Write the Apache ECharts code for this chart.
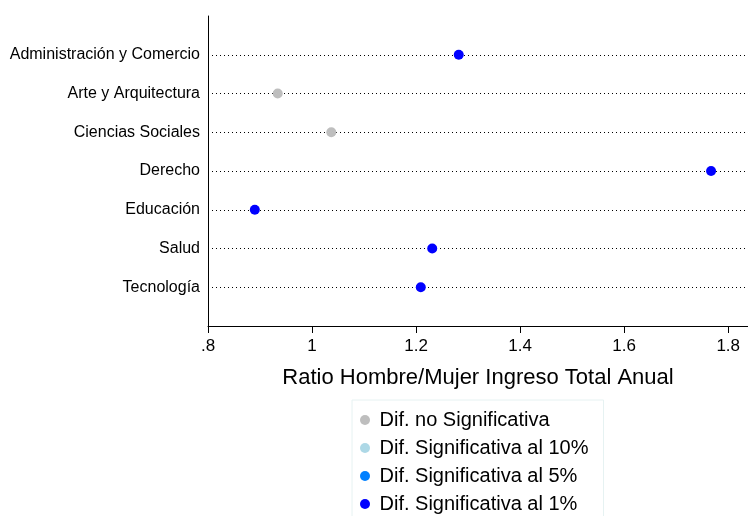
<!DOCTYPE html>
<html>
<head>
<meta charset="utf-8">
<script src="https://cdn.jsdelivr.net/npm/echarts@6/dist/echarts.min.js"></script>
<style>
html,body{margin:0;padding:0;background:#fff;}
#chart{width:748px;height:516px;}
</style>
</head>
<body>
<div id="chart"></div>
<script>
// ---- Data ----
const categories = ['Administración y Comercio','Arte y Arquitectura','Ciencias Sociales','Derecho','Educación','Salud','Tecnología'];
const ratios = [1.282, 0.934, 1.037, 1.767, 0.890, 1.231, 1.209];
// significance level per category: 0 = no significativa, 10, 5, 1
const significance = [1, 0, 0, 1, 1, 1, 1];
const groupNames = ['Dif. no Significativa','Dif. Significativa al 10%','Dif. Significativa al 5%','Dif. Significativa al 1%'];
const groupLevels = [0, 10, 5, 1];
const groupColors = ['#bebebe','#add8e6','#0080ff','#0000ff'];
const xTicks = [0.8, 1.0, 1.2, 1.4, 1.6, 1.8];
const xTickLabels = ['.8','1','1.2','1.4','1.6','1.8'];
const xTitle = 'Ratio Hombre/Mujer Ingreso Total Anual';

const FONT = 'Liberation Sans, Arial, sans-serif';

const series = [{
  name: '_guides',
  type: 'scatter',
  data: [],
  z: 0,
  silent: true,
  markLine: {
    silent: true,
    symbol: ['none','none'],
    label: {show: false},
    lineStyle: {color: '#000', width: 1, type: [1, 3]},
    data: categories.map((c, i) => ({yAxis: i + 1}))
  }
}];
groupNames.forEach((name, g) => {
  const data = [];
  categories.forEach((c, i) => {
    if (significance[i] === groupLevels[g]) data.push([ratios[i], i + 1]);
  });
  series.push({
    name: name,
    type: 'scatter',
    symbol: 'circle',
    symbolSize: 10,
    zlevel: 1,
    z: 3,
    itemStyle: {color: groupColors[g], opacity: 1},
    data: data
  });
});

const chart = echarts.init(document.getElementById('chart'), null, {renderer: 'canvas'});
chart.setOption({
  animation: false,
  backgroundColor: '#fff',
  textStyle: {fontFamily: FONT},
  grid: {left: 208, top: 16, right: 0, bottom: 190, containLabel: false},
  xAxis: {
    type: 'value',
    position: 'bottom',
    min: 0.8,
    max: 1.838,
    interval: 0.2,
    name: xTitle,
    nameLocation: 'middle',
    nameGap: 41,
    nameTextStyle: {color: '#000', fontSize: 22, fontFamily: FONT},
    axisLine: {show: true, onZero: false, lineStyle: {color: '#000', width: 1}},
    axisTick: {show: true, length: 7, lineStyle: {color: '#000'}, customValues: xTicks},
    axisLabel: {
      color: '#000', fontSize: 17, fontFamily: FONT, margin: 12,
      customValues: xTicks,
      formatter: v => {
        const idx = xTicks.findIndex(t => Math.abs(t - v) < 1e-6);
        return idx >= 0 ? xTickLabels[idx] : '';
      }
    },
    splitLine: {show: false}
  },
  yAxis: {
    type: 'value',
    inverse: true,
    min: 0,
    max: 8,
    interval: 1,
    axisLine: {show: true, onZero: false, lineStyle: {color: '#000', width: 1}},
    axisTick: {show: false},
    axisLabel: {
      color: '#000', fontSize: 16, fontFamily: FONT, margin: 8,
      formatter: v => (v >= 1 && v <= categories.length) ? categories[v - 1] : ''
    },
    splitLine: {show: false}
  },
  legend: {
    data: groupNames,
    orient: 'vertical',
    left: 352,
    top: 400,
    height: 140,
    icon: 'circle',
    itemWidth: 19,
    itemHeight: 10,
    itemGap: 8,
    padding: [10, 15, 11, 8],
    borderColor: '#e6f2f2',
    borderWidth: 1,
    selectedMode: false,
    textStyle: {color: '#000', fontSize: 20, fontFamily: FONT, lineHeight: 18}
  },
  series: series
});
</script>
</body>
</html>
